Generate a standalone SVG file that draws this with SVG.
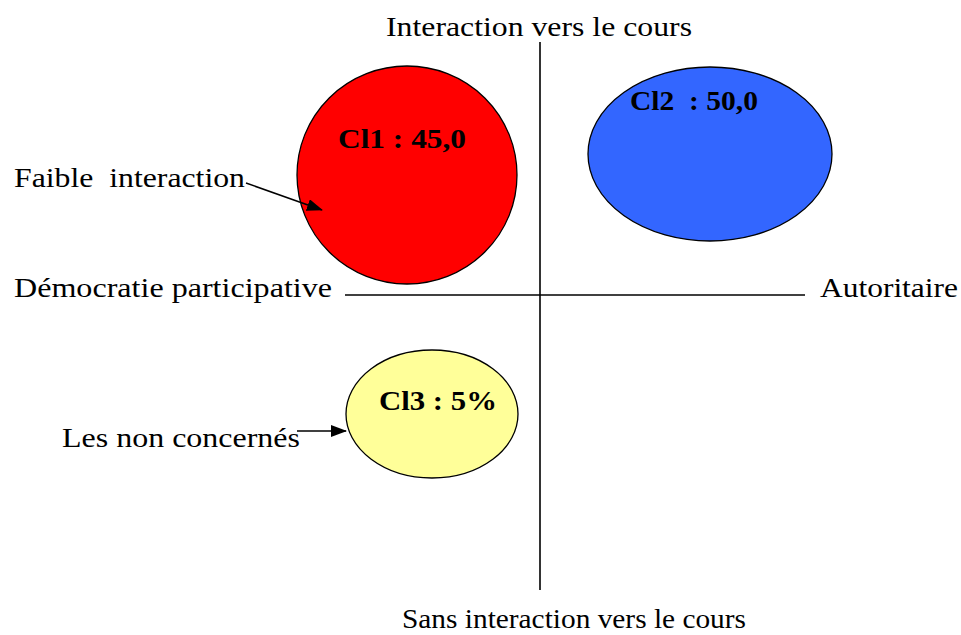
<svg xmlns="http://www.w3.org/2000/svg" width="961" height="635" viewBox="0 0 961 635">
<style>
.t{font-family:"Liberation Serif","Times New Roman",serif;font-size:28px;fill:#000;white-space:pre}
.b{font-family:"Liberation Serif","Times New Roman",serif;font-size:28px;font-weight:bold;fill:#000;white-space:pre}
.ax{stroke:#000;stroke-width:1.6;fill:none}
.el{stroke:#000;stroke-width:1.3}
.ar{stroke:#000;stroke-width:1.5;fill:none;marker-end:url(#ah)}
</style>
<defs>
<marker id="ah" markerWidth="16" markerHeight="12" refX="15" refY="6" orient="auto" markerUnits="userSpaceOnUse" viewBox="0 0 16 12">
<path d="M0,0 L16,6 L0,12 Z" fill="#000"/>
</marker>
</defs>
<rect width="961" height="635" fill="#fff"/>
<g id="axes">
<line class="ax" x1="540" y1="42" x2="540" y2="590"/>
<line class="ax" x1="345" y1="295" x2="805" y2="295"/>
<text class="t" x="386" y="36" textLength="306" lengthAdjust="spacingAndGlyphs">Interaction vers le cours</text>
<text class="t" x="402" y="628" textLength="344" lengthAdjust="spacingAndGlyphs">Sans interaction vers le cours</text>
<text class="t" x="14" y="297" textLength="318" lengthAdjust="spacingAndGlyphs">Démocratie participative</text>
<text class="t" x="820" y="297" textLength="138" lengthAdjust="spacingAndGlyphs">Autoritaire</text>
</g>
<g id="cl1">
<ellipse class="el" cx="407" cy="175" rx="110" ry="109" fill="#FF0000"/>
<text class="b" x="338" y="148" textLength="128" lengthAdjust="spacingAndGlyphs">Cl1 : 45,0</text>
</g>
<g id="cl2">
<ellipse class="el" cx="710" cy="154" rx="122" ry="87" fill="#3366FF"/>
<text class="b" x="630" y="110" textLength="128" lengthAdjust="spacingAndGlyphs">Cl2  : 50,0</text>
</g>
<g id="cl3">
<ellipse class="el" cx="432" cy="414" rx="86" ry="64" fill="#FFFF99"/>
<text class="b" x="379" y="410" textLength="118" lengthAdjust="spacingAndGlyphs">Cl3 : 5%</text>
</g>
<g id="label-faible">
<text class="t" x="14" y="187" textLength="231" lengthAdjust="spacingAndGlyphs">Faible  interaction</text>
</g>
<g id="label-nonconcernes">
<text class="t" x="62" y="447" textLength="238" lengthAdjust="spacingAndGlyphs">Les non concernés</text>
</g>
<g id="connectors">
<line class="ar" x1="246" y1="183" x2="322" y2="210"/>
<line class="ar" x1="297" y1="431" x2="346" y2="431"/>
</g>
</svg>
